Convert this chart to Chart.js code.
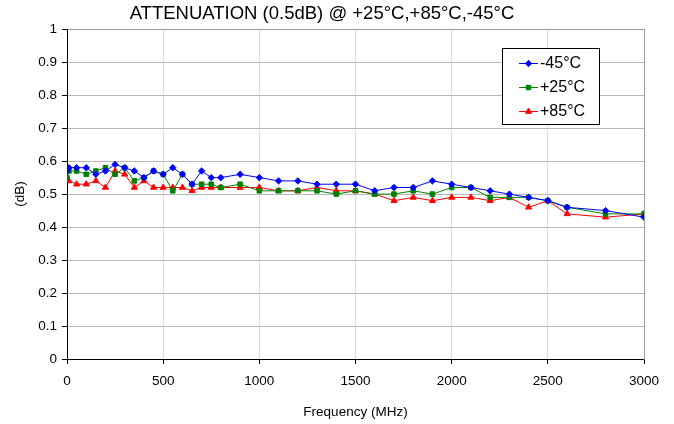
<!DOCTYPE html>
<html lang="en">
<head>
  <meta charset="UTF-8" />
  <title>Attenuation (0.5dB)</title>
  <script src="https://cdn.jsdelivr.net/npm/chart.js"></script>
  <style>
    * { margin: 0; padding: 0; box-sizing: border-box; }
    body { background: #ffffff; width: 674px; height: 424px; overflow: hidden; }
    #wrap { position: relative; width: 674px; height: 424px; }
  </style>
</head>
<body>
  <div id="wrap"><canvas id="attChart"></canvas></div>

  <script>
    // frequency points (MHz)
    const freqs = [0, 10, 50, 100, 150, 200, 250, 300, 350, 400, 450, 500, 550, 600, 650, 700, 750, 800, 900,
      1000, 1100, 1200, 1300, 1400, 1500, 1600, 1700, 1800, 1900, 2000, 2100, 2200, 2300, 2400, 2500, 2600, 2800, 3000];

    const minus45 = [0.57, 0.58, 0.58, 0.58, 0.56, 0.57, 0.59, 0.58, 0.57, 0.55, 0.57, 0.56, 0.58, 0.56, 0.53, 0.57, 0.55, 0.55, 0.56,
      0.55, 0.54, 0.54, 0.53, 0.53, 0.53, 0.51, 0.52, 0.52, 0.54, 0.53, 0.52, 0.51, 0.50, 0.49, 0.48, 0.46, 0.45, 0.43];
    const plus25 = [0.55, 0.57, 0.57, 0.56, 0.57, 0.58, 0.56, 0.58, 0.54, 0.55, 0.57, 0.56, 0.51, 0.56, 0.53, 0.53, 0.53, 0.52, 0.53,
      0.51, 0.51, 0.51, 0.51, 0.50, 0.51, 0.50, 0.50, 0.51, 0.50, 0.52, 0.52, 0.49, 0.49, 0.49, 0.48, 0.46, 0.44, 0.44];
    const plus85 = [0.54, 0.54, 0.53, 0.53, 0.54, 0.52, 0.57, 0.56, 0.52, 0.54, 0.52, 0.52, 0.52, 0.52, 0.51, 0.52, 0.52, 0.52, 0.52,
      0.52, 0.51, 0.51, 0.52, 0.51, 0.51, 0.50, 0.48, 0.49, 0.48, 0.49, 0.49, 0.48, 0.49, 0.46, 0.48, 0.44, 0.43, 0.44];

    const seriesNames = ['-45°C', '+25°C', '+85°C'];
    const xTicks = [0, 500, 1000, 1500, 2000, 2500, 3000];

    const toPts = vals => freqs.map((f, i) => ({ x: f, y: vals[i] }));

    const FONT = "'Liberation Sans', Arial, sans-serif";

    // gray frame around the plot + hand drawn legend box
    const frameAndLegend = {
      id: 'frameAndLegend',
      beforeDatasetsDraw(chart) {
        const { ctx, chartArea: a } = chart;
        ctx.save();
        ctx.strokeStyle = '#9a9a9a';
        ctx.lineWidth = 1;
        ctx.strokeRect(Math.round(a.left) + 0.5, Math.round(a.top) + 0.5, Math.round(a.right - a.left), Math.round(a.bottom - a.top));
        ctx.strokeStyle = '#000';
        ctx.beginPath();
        ctx.moveTo(Math.round(a.left) + 0.5, a.top);
        ctx.lineTo(Math.round(a.left) + 0.5, a.bottom + 0.5);
        ctx.lineTo(a.right, Math.round(a.bottom) + 0.5);
        ctx.stroke();
        ctx.restore();
      },
      afterDraw(chart) {
        const ctx = chart.ctx;
        ctx.save();
        ctx.fillStyle = '#fff';
        ctx.fillRect(503, 48, 97, 76);
        ctx.strokeStyle = '#000';
        ctx.lineWidth = 1;
        ctx.strokeRect(502.5, 48.5, 97, 76);
        ctx.font = '16px ' + FONT;
        ctx.textBaseline = 'middle';
        chart.data.datasets.forEach((ds, i) => {
          const y = 63 + i * 24;
          ctx.strokeStyle = ds.borderColor;
          ctx.fillStyle = ds.backgroundColor;
          ctx.lineWidth = 1;
          ctx.beginPath();
          ctx.moveTo(519, y + 0.5);
          ctx.lineTo(538, y + 0.5);
          ctx.stroke();
          Chart.helpers.drawPoint(ctx, {
            pointStyle: ds.pointStyle, radius: ds.pointRadius, borderWidth: 1
          }, 528.5, y + 0.5);
          ctx.fillStyle = '#000';
          ctx.fillText(ds.label, 540, y + 1);
        });
        ctx.restore();
      }
    };

    const colors = ['#0000ff', '#008000', '#ff0000'];
    const styles = ['rectRot', 'rect', 'triangle'];
    const radii = [3.2, 3.2, 3.5];

    const datasets = [minus45, plus25, plus85].map((vals, i) => ({
      label: seriesNames[i],
      data: toPts(vals),
      showLine: true,
      borderColor: colors[i],
      backgroundColor: colors[i],
      borderWidth: 1,
      pointStyle: styles[i],
      pointRadius: radii[i],
      pointBorderWidth: 1,
      tension: 0
    }));

    Chart.defaults.font.family = FONT;
    Chart.defaults.color = '#000';

    new Chart(document.getElementById('attChart'), {
      type: 'scatter',
      data: { datasets: datasets },
      options: {
        responsive: true,
        maintainAspectRatio: false,
        animation: false,
        layout: { padding: { top: 0, right: 30, left: 0, bottom: 0 } },
        plugins: {
          legend: { display: false },
          tooltip: { enabled: false },
          title: {
            display: true,
            text: 'ATTENUATION (0.5dB) @ +25°C,+85°C,-45°C',
            font: { size: 18.5, weight: 'normal' },
            color: '#000',
            padding: { top: 3, bottom: 4 }
          }
        },
        scales: {
          x: {
            type: 'linear',
            min: 0,
            max: 3000,
            afterBuildTicks: s => { s.ticks = xTicks.map(v => ({ value: v })); },
            afterFit: s => { s.height = 65; },
            grid: { color: '#dcdcdc', tickLength: 5, tickColor: '#000', drawTicks: true },
            border: { color: '#000' },
            ticks: { font: { size: 13.5 }, padding: 9, maxRotation: 0, callback: v => String(v) },
            title: { display: true, text: 'Frequency (MHz)', font: { size: 13.5 }, padding: { top: 4 } }
          },
          y: {
            min: 0,
            max: 1,
            afterFit: s => { s.width = 67; },
            grid: { color: '#b8b8b8', tickLength: 5, tickColor: '#000' },
            border: { color: '#000' },
            ticks: { stepSize: 0.1, font: { size: 13.5 }, padding: 5, callback: v => String(Math.round(v * 10) / 10) },
            title: { display: true, text: '(dB)', font: { size: 13.5 }, padding: { top: 12, bottom: 4 } }
          }
        }
      },
      plugins: [frameAndLegend]
    });
  </script>
</body>
</html>
